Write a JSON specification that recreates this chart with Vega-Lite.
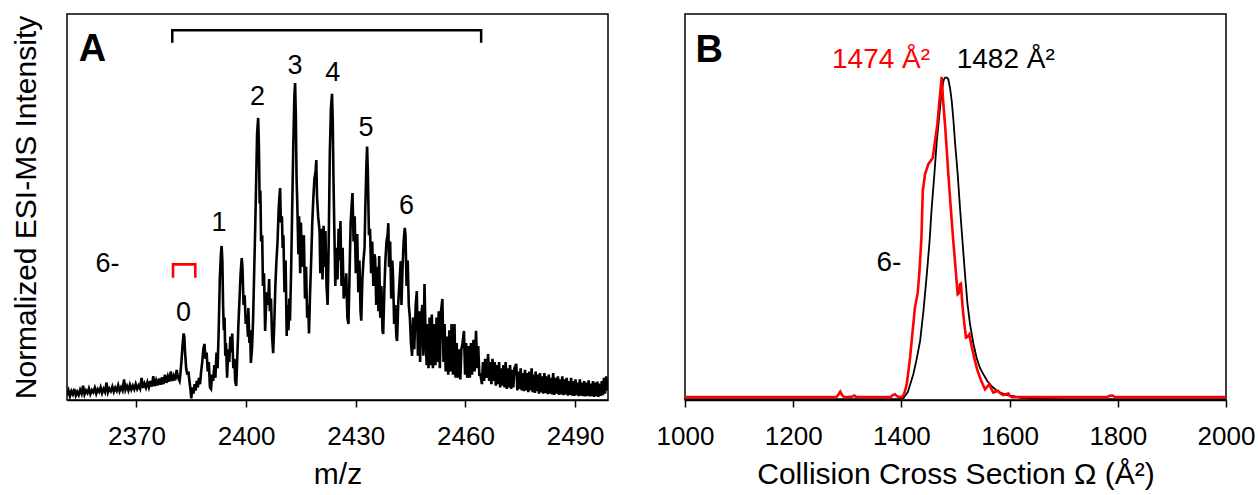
{
  "$schema": "https://vega.github.io/schema/vega-lite/v6.json",
  "background": "white",
  "padding": {"left": 10, "top": 13, "right": 0, "bottom": 0},
  "bounds": "flush",
  "spacing": 77,
  "config": {
    "view": {"stroke": "#000000", "strokeWidth": 1.5},
    "axis": {"labelFont": "Liberation Sans", "titleFont": "Liberation Sans", "labelFontSize": 26, "titleFontSize": 30, "titleFontWeight": "normal", "labelColor": "#000000", "titleColor": "#000000", "domainColor": "#000000", "tickColor": "#000000", "grid": false, "tickSize": 7, "tickWidth": 1.5, "domainWidth": 1.5, "labelPadding": 16, "titlePadding": 10, "labelFlush": false, "labelOverlap": false},
    "text": {"font": "Liberation Sans"}
  },
  "datasets": {
    "ms": [
      {"mz":2351.0,"i":1.5},{"mz":2351.4,"i":3.0},{"mz":2351.8,"i":1.2},{"mz":2352.2,"i":2.8},{"mz":2352.6,"i":1.8},{"mz":2353.0,"i":3.5},{"mz":2353.4,"i":1.4},{"mz":2353.8,"i":2.6},{"mz":2354.2,"i":1.6},{"mz":2354.6,"i":3.2},
      {"mz":2355.0,"i":2.0},{"mz":2355.4,"i":4.5},{"mz":2355.8,"i":1.8},{"mz":2356.2,"i":3.0},{"mz":2356.6,"i":2.2},{"mz":2357.0,"i":3.6},{"mz":2357.4,"i":1.9},{"mz":2357.8,"i":3.1},{"mz":2358.2,"i":2.4},{"mz":2358.6,"i":3.8},
      {"mz":2359.0,"i":2.0},{"mz":2359.4,"i":3.4},{"mz":2359.8,"i":2.6},{"mz":2360.2,"i":4.0},{"mz":2360.6,"i":2.2},{"mz":2361.0,"i":3.5},{"mz":2361.4,"i":2.5},{"mz":2361.8,"i":5.5},{"mz":2362.2,"i":2.4},{"mz":2362.6,"i":3.6},
      {"mz":2363.0,"i":2.8},{"mz":2363.4,"i":4.2},{"mz":2363.8,"i":2.6},{"mz":2364.2,"i":3.9},{"mz":2364.6,"i":2.9},{"mz":2365.0,"i":4.6},{"mz":2365.4,"i":2.8},{"mz":2365.8,"i":4.0},{"mz":2366.2,"i":3.0},{"mz":2366.6,"i":6.5},
      {"mz":2367.0,"i":3.2},{"mz":2367.4,"i":4.4},{"mz":2367.8,"i":3.0},{"mz":2368.2,"i":4.8},{"mz":2368.6,"i":3.3},{"mz":2369.0,"i":4.5},{"mz":2369.4,"i":3.4},{"mz":2369.8,"i":5.0},{"mz":2370.2,"i":3.5},{"mz":2370.6,"i":4.6},
      {"mz":2371.0,"i":3.6},{"mz":2371.4,"i":7.0},{"mz":2371.8,"i":3.8},{"mz":2372.2,"i":5.2},{"mz":2372.6,"i":3.9},{"mz":2373.0,"i":5.6},{"mz":2373.4,"i":4.0},{"mz":2373.8,"i":6.0},{"mz":2374.2,"i":4.2},{"mz":2374.6,"i":7.5},
      {"mz":2375.0,"i":4.4},{"mz":2375.4,"i":6.2},{"mz":2375.8,"i":4.6},{"mz":2376.2,"i":6.8},{"mz":2376.6,"i":4.8},{"mz":2377.0,"i":7.2},{"mz":2377.4,"i":5.0},{"mz":2377.8,"i":8.0},{"mz":2378.2,"i":5.4},{"mz":2378.6,"i":7.4},
      {"mz":2379.0,"i":5.8},{"mz":2379.4,"i":9.0},{"mz":2379.8,"i":6.0},{"mz":2380.2,"i":7.6},{"mz":2380.6,"i":6.2},{"mz":2381.0,"i":9.5},{"mz":2381.4,"i":7.0},{"mz":2381.8,"i":6.0},
      {"mz":2382.0,"i":8.0},{"mz":2382.3,"i":12},{"mz":2382.6,"i":17},{"mz":2382.9,"i":21},{"mz":2383.1,"i":20},{"mz":2383.3,"i":15},{"mz":2383.6,"i":10},{"mz":2383.9,"i":8},{"mz":2384.2,"i":9},{"mz":2384.5,"i":6},
      {"mz":2384.8,"i":3},{"mz":2385.0,"i":0.5},{"mz":2385.3,"i":4},{"mz":2385.6,"i":2},{"mz":2385.9,"i":5},{"mz":2386.2,"i":3},{"mz":2386.5,"i":6},{"mz":2386.8,"i":4},{"mz":2387.1,"i":7},
      {"mz":2387.4,"i":5},{"mz":2387.7,"i":9},{"mz":2388.0,"i":12},{"mz":2388.3,"i":16},{"mz":2388.6,"i":17.7},{"mz":2388.9,"i":13},{"mz":2389.2,"i":15},{"mz":2389.5,"i":9},{"mz":2389.8,"i":12},{"mz":2390.1,"i":4},
      {"mz":2390.4,"i":3.5},{"mz":2390.7,"i":8},{"mz":2391.0,"i":6},{"mz":2391.3,"i":11},{"mz":2391.6,"i":7},{"mz":2391.9,"i":15},{"mz":2392.2,"i":10},
      {"mz":2392.5,"i":22},{"mz":2392.8,"i":38},{"mz":2393.1,"i":46},{"mz":2393.3,"i":48.6},{"mz":2393.5,"i":44},{"mz":2393.7,"i":30},{"mz":2393.9,"i":22},{"mz":2394.1,"i":26},{"mz":2394.3,"i":14},{"mz":2394.5,"i":18},
      {"mz":2394.8,"i":7},{"mz":2395.1,"i":16},{"mz":2395.4,"i":12},{"mz":2395.7,"i":20},{"mz":2396.0,"i":15},{"mz":2396.2,"i":21},{"mz":2396.5,"i":10},{"mz":2396.8,"i":13},{"mz":2397.0,"i":6},{"mz":2397.3,"i":4.4},
      {"mz":2397.6,"i":14},{"mz":2397.9,"i":24},{"mz":2398.2,"i":32},{"mz":2398.5,"i":40},{"mz":2398.8,"i":44.8},{"mz":2399.0,"i":42},{"mz":2399.3,"i":30},{"mz":2399.6,"i":33},{"mz":2399.9,"i":24},{"mz":2400.2,"i":27},
      {"mz":2400.5,"i":20},{"mz":2400.6,"i":29},{"mz":2400.9,"i":18},{"mz":2401.1,"i":22},{"mz":2401.3,"i":11.7},{"mz":2401.6,"i":16},
      {"mz":2401.9,"i":25},{"mz":2402.2,"i":40},{"mz":2402.5,"i":55},{"mz":2402.8,"i":72},{"mz":2403.0,"i":84},{"mz":2403.3,"i":89},{"mz":2403.5,"i":80},{"mz":2403.7,"i":62},{"mz":2403.9,"i":66},{"mz":2404.1,"i":50},
      {"mz":2404.4,"i":52},{"mz":2404.6,"i":36},{"mz":2404.9,"i":40},{"mz":2405.2,"i":21.8},{"mz":2405.4,"i":28},{"mz":2405.7,"i":34},{"mz":2406.0,"i":30},{"mz":2406.3,"i":38.2},{"mz":2406.5,"i":28},{"mz":2406.8,"i":32},
      {"mz":2407.1,"i":20},{"mz":2407.4,"i":14.8},{"mz":2407.7,"i":24},{"mz":2408.0,"i":36},{"mz":2408.3,"i":44},{"mz":2408.6,"i":50},{"mz":2408.9,"i":60},{"mz":2409.1,"i":64},{"mz":2409.3,"i":66.9},{"mz":2409.5,"i":56},
      {"mz":2409.8,"i":58},{"mz":2410.0,"i":48},{"mz":2410.2,"i":52},{"mz":2410.5,"i":34},{"mz":2410.8,"i":44},{"mz":2411.1,"i":20.2},{"mz":2411.3,"i":30},{"mz":2411.6,"i":22},{"mz":2411.8,"i":32},{"mz":2412.0,"i":25},
      {"mz":2412.3,"i":40},{"mz":2412.6,"i":60},{"mz":2412.9,"i":80},{"mz":2413.2,"i":96},{"mz":2413.4,"i":100},{"mz":2413.6,"i":90},{"mz":2413.8,"i":70},{"mz":2414.0,"i":62},{"mz":2414.3,"i":46},{"mz":2414.5,"i":58},
      {"mz":2414.8,"i":40},{"mz":2415.0,"i":56},{"mz":2415.3,"i":42},{"mz":2415.6,"i":50},{"mz":2415.8,"i":52},{"mz":2416.1,"i":32},{"mz":2416.4,"i":42},{"mz":2416.7,"i":26},{"mz":2417.0,"i":30},{"mz":2417.2,"i":21},
      {"mz":2417.5,"i":34},{"mz":2417.8,"i":44},{"mz":2418.1,"i":56},{"mz":2418.4,"i":64},{"mz":2418.7,"i":70},{"mz":2419.0,"i":72},{"mz":2419.2,"i":75.7},{"mz":2419.4,"i":64},{"mz":2419.7,"i":58},{"mz":2420.1,"i":53.3},
      {"mz":2420.3,"i":40},{"mz":2420.6,"i":54},{"mz":2420.9,"i":38},{"mz":2421.2,"i":55},{"mz":2421.5,"i":42},{"mz":2421.7,"i":53.3},{"mz":2422.0,"i":36},{"mz":2422.3,"i":30},{"mz":2422.6,"i":50},{"mz":2422.9,"i":78},
      {"mz":2423.2,"i":92},{"mz":2423.5,"i":96.6},{"mz":2423.7,"i":88},{"mz":2423.9,"i":70},{"mz":2424.1,"i":56},{"mz":2424.4,"i":36},{"mz":2424.7,"i":48},{"mz":2425.0,"i":38},{"mz":2425.3,"i":54},{"mz":2425.6,"i":44},
      {"mz":2425.8,"i":56.5},{"mz":2426.1,"i":36},{"mz":2426.4,"i":48},{"mz":2426.7,"i":32},{"mz":2427.1,"i":34.4},{"mz":2427.4,"i":40},{"mz":2427.7,"i":26},{"mz":2428.0,"i":24},{"mz":2428.3,"i":40},{"mz":2428.6,"i":56},
      {"mz":2428.9,"i":62},{"mz":2429.1,"i":65.3},{"mz":2429.4,"i":50},{"mz":2429.7,"i":58},{"mz":2430.0,"i":40},{"mz":2430.4,"i":52.4},{"mz":2430.7,"i":34},{"mz":2431.0,"i":44},{"mz":2431.3,"i":28},{"mz":2431.5,"i":25},
      {"mz":2431.8,"i":38},{"mz":2432.1,"i":44},{"mz":2432.4,"i":48},{"mz":2432.6,"i":60},{"mz":2432.9,"i":74},{"mz":2433.1,"i":80},{"mz":2433.3,"i":72},{"mz":2433.6,"i":52},{"mz":2433.9,"i":54},{"mz":2434.2,"i":40},
      {"mz":2434.5,"i":50},{"mz":2434.8,"i":36},{"mz":2435.1,"i":46},{"mz":2435.3,"i":44.8},{"mz":2435.6,"i":30},{"mz":2435.9,"i":42},{"mz":2436.2,"i":28},{"mz":2436.4,"i":45.4},{"mz":2436.7,"i":26},{"mz":2437.0,"i":36},
      {"mz":2437.3,"i":22},{"mz":2437.5,"i":20.8},{"mz":2437.8,"i":34},{"mz":2438.1,"i":44},{"mz":2438.4,"i":50},{"mz":2438.7,"i":52},{"mz":2438.9,"i":55.8},{"mz":2439.1,"i":42},{"mz":2439.4,"i":50},{"mz":2439.7,"i":32},
      {"mz":2440.0,"i":44},{"mz":2440.2,"i":38.5},{"mz":2440.5,"i":24},{"mz":2440.8,"i":30},{"mz":2441.1,"i":20},{"mz":2441.3,"i":18.6},{"mz":2441.6,"i":30},{"mz":2441.9,"i":36},{"mz":2442.3,"i":43.8},{"mz":2442.5,"i":30},
      {"mz":2442.8,"i":42},{"mz":2443.1,"i":50},{"mz":2443.4,"i":54.3},{"mz":2443.6,"i":52},{"mz":2443.9,"i":36},{"mz":2444.2,"i":44},{"mz":2444.5,"i":30},
      {"mz":2444.8,"i":26},{"mz":2445.1,"i":18},{"mz":2445.4,"i":13.9},{"mz":2445.7,"i":26},{"mz":2446.0,"i":16},{"mz":2446.4,"i":30},{"mz":2446.7,"i":34.4},{"mz":2447.0,"i":14},{"mz":2447.3,"i":28},{"mz":2447.6,"i":12},
      {"mz":2447.9,"i":26},{"mz":2448.2,"i":30},{"mz":2448.5,"i":14},{"mz":2448.8,"i":36.6},{"mz":2449.1,"i":20},{"mz":2449.4,"i":11},{"mz":2449.7,"i":24},{"mz":2449.9,"i":10},{"mz":2450.2,"i":26},{"mz":2450.5,"i":11},
      {"mz":2450.8,"i":27},{"mz":2451.1,"i":10},{"mz":2451.5,"i":24},{"mz":2451.8,"i":11},{"mz":2452.1,"i":26},{"mz":2452.4,"i":12},{"mz":2452.7,"i":28},{"mz":2453.0,"i":10},{"mz":2453.3,"i":28},{"mz":2453.7,"i":31.9},
      {"mz":2454.0,"i":12},{"mz":2454.3,"i":24},{"mz":2454.6,"i":9},{"mz":2455.0,"i":20},{"mz":2455.3,"i":8},{"mz":2455.6,"i":22},{"mz":2455.9,"i":9},{"mz":2456.2,"i":24},{"mz":2456.6,"i":8},{"mz":2457.0,"i":24},
      {"mz":2457.3,"i":7},{"mz":2457.6,"i":18},{"mz":2457.9,"i":7},{"mz":2458.2,"i":16},{"mz":2458.6,"i":6.5},{"mz":2458.9,"i":16},{"mz":2459.2,"i":18},{"mz":2459.6,"i":21.8},{"mz":2459.9,"i":8},{"mz":2460.2,"i":18},
      {"mz":2460.5,"i":7},{"mz":2460.9,"i":17},{"mz":2461.2,"i":7},{"mz":2461.5,"i":18},{"mz":2461.8,"i":8},{"mz":2462.2,"i":19},{"mz":2462.5,"i":9},{"mz":2462.9,"i":21.8},{"mz":2463.2,"i":10},{"mz":2463.5,"i":17},
      {"mz":2463.8,"i":8},{"mz":2464.1,"i":8},{"mz":2464.5,"i":5},{"mz":2464.8,"i":12},{"mz":2465.1,"i":6},{"mz":2465.4,"i":13},{"mz":2465.8,"i":7},{"mz":2466.2,"i":14.5},{"mz":2466.5,"i":6},{"mz":2466.8,"i":12},
      {"mz":2467.1,"i":5},{"mz":2467.4,"i":13},{"mz":2467.7,"i":6},{"mz":2468.0,"i":12},{"mz":2468.3,"i":4.5},{"mz":2468.6,"i":11},{"mz":2468.9,"i":5},{"mz":2469.2,"i":12},{"mz":2469.5,"i":4},{"mz":2469.8,"i":10},
      {"mz":2470.1,"i":4.5},{"mz":2470.4,"i":11},{"mz":2470.7,"i":4},{"mz":2471.0,"i":12},{"mz":2471.3,"i":3.5},{"mz":2471.6,"i":10},{"mz":2471.9,"i":4},{"mz":2472.2,"i":11},{"mz":2472.5,"i":3.5},{"mz":2472.8,"i":9.5},
      {"mz":2473.1,"i":4},{"mz":2473.4,"i":10},{"mz":2473.9,"i":11.4},{"mz":2474.2,"i":3},{"mz":2474.5,"i":9},{"mz":2474.8,"i":3.5},{"mz":2475.1,"i":10},{"mz":2475.4,"i":3},{"mz":2475.7,"i":8.5},{"mz":2476.0,"i":2.8},
      {"mz":2476.3,"i":9.5},{"mz":2476.6,"i":3},{"mz":2476.9,"i":8.5},{"mz":2477.2,"i":2.5},{"mz":2477.5,"i":9},{"mz":2477.8,"i":3},{"mz":2478.1,"i":10},{"mz":2478.4,"i":2.5},{"mz":2478.7,"i":8},{"mz":2479.0,"i":2.2},
      {"mz":2479.2,"i":9},{"mz":2479.5,"i":2.8},{"mz":2479.8,"i":8},{"mz":2480.1,"i":2},{"mz":2480.4,"i":8.5},{"mz":2480.7,"i":2.4},{"mz":2481.0,"i":7.5},{"mz":2481.3,"i":2},{"mz":2481.6,"i":8.5},{"mz":2481.9,"i":2.2},
      {"mz":2482.2,"i":7.5},{"mz":2482.5,"i":1.8},{"mz":2482.8,"i":8},{"mz":2483.1,"i":2},{"mz":2483.4,"i":7},{"mz":2483.7,"i":1.8},{"mz":2484.0,"i":8.5},{"mz":2484.3,"i":1.6},{"mz":2484.7,"i":7},{"mz":2485.0,"i":2},
      {"mz":2485.3,"i":7.5},{"mz":2485.6,"i":1.6},{"mz":2485.9,"i":6.5},{"mz":2486.2,"i":1.8},{"mz":2486.5,"i":7.5},{"mz":2486.8,"i":1.5},{"mz":2487.1,"i":6.5},{"mz":2487.4,"i":1.8},{"mz":2487.7,"i":7},{"mz":2488.0,"i":1.4},
      {"mz":2488.3,"i":6},{"mz":2488.6,"i":1.6},{"mz":2488.9,"i":7},{"mz":2489.2,"i":1.4},{"mz":2489.5,"i":6},{"mz":2489.8,"i":1.3},{"mz":2490.1,"i":6.5},{"mz":2490.4,"i":1.5},{"mz":2490.7,"i":5.5},{"mz":2491.0,"i":1.2},
      {"mz":2491.3,"i":6.5},{"mz":2491.6,"i":1.4},{"mz":2491.9,"i":5.5},{"mz":2492.2,"i":1.2},{"mz":2492.5,"i":6},{"mz":2492.8,"i":1.1},{"mz":2493.1,"i":5.5},{"mz":2493.4,"i":1.3},{"mz":2493.7,"i":6.2},{"mz":2494.0,"i":1.1},
      {"mz":2494.3,"i":5.2},{"mz":2494.6,"i":1.2},{"mz":2494.9,"i":6},{"mz":2495.2,"i":1},{"mz":2495.5,"i":5.5},{"mz":2495.8,"i":1.2},{"mz":2496.1,"i":5.8},{"mz":2496.4,"i":1},{"mz":2496.7,"i":5.2},{"mz":2497.0,"i":1.3},
      {"mz":2497.3,"i":6},{"mz":2497.6,"i":1.5},{"mz":2497.9,"i":7},{"mz":2498.2,"i":2},{"mz":2498.5,"i":7.5},{"mz":2498.8,"i":3},{"mz":2499.0,"i":6}
    ],
    "bracketBlack": [
      {"mz":2379.8,"i":112.7,"o":1},{"mz":2379.8,"i":116.7,"o":2},{"mz":2464.3,"i":116.7,"o":3},{"mz":2464.3,"i":112.7,"o":4}
    ],
    "bracketRed": [
      {"mz":2380.0,"i":38.6,"o":1},{"mz":2380.0,"i":42.8,"o":2},{"mz":2386.1,"i":42.8,"o":3},{"mz":2386.1,"i":38.6,"o":4}
    ],
    "peakLabels": [
      {"mz":2382.9,"i":24.9,"t":"0"},{"mz":2392.6,"i":53.3,"t":"1"},{"mz":2403.1,"i":93,"t":"2"},{"mz":2413.4,"i":103,"t":"3"},{"mz":2423.7,"i":100.6,"t":"4"},{"mz":2432.8,"i":83.3,"t":"5"},{"mz":2443.9,"i":58.6,"t":"6"}
    ],
    "chargeA": [{"mz":2358.8,"i":40.5,"t":"6-"}],
    "panelA": [{"mz":2354.2,"i":107,"t":"A"}],
    "ccsBlack": [
      {"ccs":1000,"v":0.003},{"ccs":1100,"v":0.003},{"ccs":1200,"v":0.003},{"ccs":1300,"v":0.003},{"ccs":1395,"v":0.003},{"ccs":1404,"v":0.006},{"ccs":1412,"v":0.025},{"ccs":1422,"v":0.08},{"ccs":1428,"v":0.125},{"ccs":1434.6,"v":0.183},
      {"ccs":1441,"v":0.28},{"ccs":1447,"v":0.39},{"ccs":1452,"v":0.49},{"ccs":1456,"v":0.595},{"ccs":1461,"v":0.70},{"ccs":1465.3,"v":0.80},{"ccs":1470,"v":0.88},{"ccs":1474.5,"v":0.957},{"ccs":1478,"v":0.99},{"ccs":1480.6,"v":0.998},
      {"ccs":1484,"v":0.998},{"ccs":1486.7,"v":0.993},{"ccs":1490,"v":0.965},{"ccs":1493,"v":0.926},{"ccs":1496,"v":0.87},{"ccs":1499,"v":0.80},{"ccs":1504,"v":0.70},{"ccs":1508.3,"v":0.595},{"ccs":1513,"v":0.49},{"ccs":1517.5,"v":0.39},
      {"ccs":1522,"v":0.30},{"ccs":1526.8,"v":0.235},{"ccs":1533,"v":0.175},{"ccs":1539,"v":0.131},{"ccs":1545,"v":0.10},{"ccs":1551.4,"v":0.08},{"ccs":1559,"v":0.058},{"ccs":1566.8,"v":0.043},{"ccs":1575,"v":0.031},{"ccs":1582.3,"v":0.023},
      {"ccs":1595,"v":0.015},{"ccs":1606.8,"v":0.012},{"ccs":1620,"v":0.007},{"ccs":1640,"v":0.004},{"ccs":1700,"v":0.003},{"ccs":1800,"v":0.003},{"ccs":1900,"v":0.003},{"ccs":2000,"v":0.003}
    ],
    "ccsRed": [
      {"ccs":1000,"v":0.009},{"ccs":1100,"v":0.009},{"ccs":1200,"v":0.009},{"ccs":1280,"v":0.009},{"ccs":1284,"v":0.018},{"ccs":1287,"v":0.026},{"ccs":1290,"v":0.016},{"ccs":1294,"v":0.009},{"ccs":1300,"v":0.009},{"ccs":1310,"v":0.011},
      {"ccs":1313,"v":0.014},{"ccs":1316,"v":0.01},{"ccs":1330,"v":0.009},{"ccs":1380,"v":0.009},{"ccs":1385,"v":0.016},{"ccs":1388,"v":0.018},{"ccs":1392,"v":0.012},{"ccs":1396,"v":0.009},{"ccs":1400.6,"v":0.009},{"ccs":1404,"v":0.015},
      {"ccs":1406.7,"v":0.028},{"ccs":1410,"v":0.05},{"ccs":1416,"v":0.131},{"ccs":1420,"v":0.20},{"ccs":1425,"v":0.286},{"ccs":1430,"v":0.33},{"ccs":1433,"v":0.389},{"ccs":1437,"v":0.50},{"ccs":1439.5,"v":0.647},{"ccs":1443.6,"v":0.699},
      {"ccs":1449.8,"v":0.73},{"ccs":1454,"v":0.74},{"ccs":1458,"v":0.75},{"ccs":1462,"v":0.80},{"ccs":1466.4,"v":0.853},{"ccs":1470,"v":0.92},{"ccs":1474.5,"v":1.0},{"ccs":1477,"v":0.93},{"ccs":1480.6,"v":0.853},{"ccs":1484,"v":0.77},
      {"ccs":1486.7,"v":0.70},{"ccs":1491,"v":0.60},{"ccs":1496,"v":0.49},{"ccs":1500,"v":0.41},{"ccs":1504,"v":0.327},{"ccs":1506,"v":0.33},{"ccs":1508.3,"v":0.358},{"ccs":1510,"v":0.36},{"ccs":1513.2,"v":0.286},{"ccs":1516,"v":0.24},
      {"ccs":1519.4,"v":0.193},{"ccs":1522,"v":0.195},{"ccs":1525.5,"v":0.203},{"ccs":1530,"v":0.165},{"ccs":1536,"v":0.121},{"ccs":1540,"v":0.095},{"ccs":1545.3,"v":0.069},{"ccs":1550,"v":0.05},{"ccs":1554.5,"v":0.033},{"ccs":1558,"v":0.04},
      {"ccs":1562.5,"v":0.049},{"ccs":1566,"v":0.035},{"ccs":1570,"v":0.023},{"ccs":1575,"v":0.026},{"ccs":1579,"v":0.028},{"ccs":1583,"v":0.02},{"ccs":1588.3,"v":0.015},{"ccs":1593,"v":0.018},{"ccs":1597.6,"v":0.02},{"ccs":1600,"v":0.014},
      {"ccs":1603.7,"v":0.009},{"ccs":1620,"v":0.009},{"ccs":1700,"v":0.009},{"ccs":1780,"v":0.009},{"ccs":1785,"v":0.013},{"ccs":1790,"v":0.014},{"ccs":1795,"v":0.009},{"ccs":1900,"v":0.009},{"ccs":2000,"v":0.009}
    ],
    "labelRed": [{"ccs":1271.7,"v":1.029,"t":"1474 Å²"}],
    "labelBlack": [{"ccs":1502.2,"v":1.029,"t":"1482 Å²"},{"ccs":1354,"v":0.40,"t":"6-"}],
    "panelB": [{"ccs":1019.4,"v":1.046,"t":"B"}]
  },
  "hconcat": [
    {
      "width": 541,
      "height": 386,
      "encoding": {
        "x": {"field": "mz", "type": "quantitative", "scale": {"domain": [2351, 2499], "nice": false, "zero": false}, "axis": {"values": [2370, 2400, 2430, 2460, 2490], "title": "m/z", "format": "d"}},
        "y": {"field": "i", "type": "quantitative", "scale": {"domain": [0, 121.8], "nice": false}, "axis": {"title": "Normalized ESI-MS Intensity", "labels": false, "ticks": false, "domain": false, "titlePadding": 26}}
      },
      "layer": [
        {"data": {"name": "ms"}, "mark": {"type": "line", "color": "#000000", "strokeWidth": 2.6, "strokeJoin": "miter", "clip": true}},
        {"data": {"name": "bracketBlack"}, "mark": {"type": "line", "color": "#000000", "strokeWidth": 2.5}, "encoding": {"order": {"field": "o", "type": "quantitative"}}},
        {"data": {"name": "bracketRed"}, "mark": {"type": "line", "color": "#ff0000", "strokeWidth": 2.6}, "encoding": {"order": {"field": "o", "type": "quantitative"}}},
        {"data": {"name": "peakLabels"}, "mark": {"type": "text", "fontSize": 27, "align": "center", "baseline": "alphabetic", "color": "#000000"}, "encoding": {"text": {"field": "t"}}},
        {"data": {"name": "chargeA"}, "mark": {"type": "text", "fontSize": 27, "align": "left", "baseline": "alphabetic", "color": "#000000"}, "encoding": {"text": {"field": "t"}}},
        {"data": {"name": "panelA"}, "mark": {"type": "text", "fontSize": 38, "fontWeight": "bold", "align": "left", "baseline": "alphabetic", "color": "#000000"}, "encoding": {"text": {"field": "t"}}}
      ]
    },
    {
      "width": 541,
      "height": 386,
      "encoding": {
        "x": {"field": "ccs", "type": "quantitative", "scale": {"domain": [1000, 2000], "nice": false, "zero": false}, "axis": {"values": [1000, 1200, 1400, 1600, 1800, 2000], "title": "Collision Cross Section Ω (Å²)", "format": "d"}},
        "y": {"field": "v", "type": "quantitative", "scale": {"domain": [0, 1.195], "nice": false}, "axis": null}
      },
      "layer": [
        {"data": {"name": "ccsBlack"}, "mark": {"type": "line", "color": "#000000", "strokeWidth": 1.8, "clip": true}},
        {"data": {"name": "ccsRed"}, "mark": {"type": "line", "color": "#ff0000", "strokeWidth": 2.6, "clip": true}},
        {"data": {"name": "labelRed"}, "mark": {"type": "text", "fontSize": 28, "align": "left", "baseline": "alphabetic", "color": "#ff0000"}, "encoding": {"text": {"field": "t"}}},
        {"data": {"name": "labelBlack"}, "mark": {"type": "text", "fontSize": 28, "align": "left", "baseline": "alphabetic", "color": "#000000"}, "encoding": {"text": {"field": "t"}}},
        {"data": {"name": "panelB"}, "mark": {"type": "text", "fontSize": 38, "fontWeight": "bold", "align": "left", "baseline": "alphabetic", "color": "#000000"}, "encoding": {"text": {"field": "t"}}}
      ]
    }
  ]
}
